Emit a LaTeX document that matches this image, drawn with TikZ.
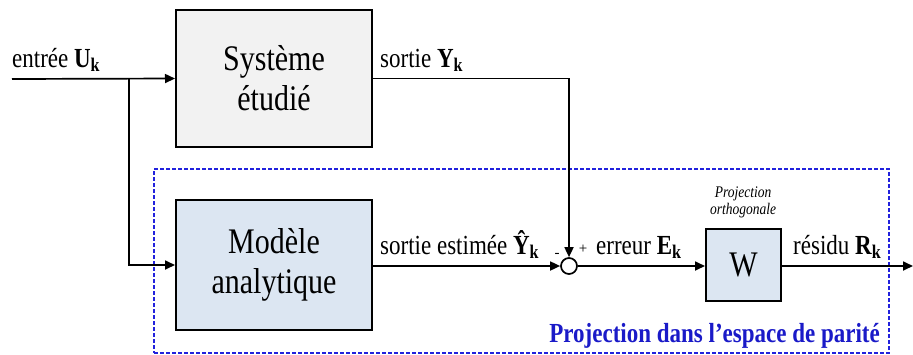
\documentclass[tikz,border=0pt]{standalone}
\usepackage{fontspec}
\setmainfont{Liberation Serif}
\usepackage{graphicx}
\usetikzlibrary{arrows.meta}
\definecolor{sysgray}{HTML}{F2F2F2}
\definecolor{modblue}{HTML}{DCE6F2}
\definecolor{frameblue}{HTML}{2222DD}
\definecolor{titleblue}{HTML}{1A1AC8}
\newcommand{\vs}[1]{\scalebox{1}[1.2]{#1}}
\newcommand{\sig}[2]{\vs{#1 \textbf{#2}\textsubscript{\textbf{k}}}}
\begin{document}
\begin{tikzpicture}[x=1pt,y=-1pt,
  blk/.style={draw, line width=2pt, minimum width=196pt, inner sep=0pt, align=center, font=\fontsize{30}{40}\selectfont},
  conn/.style={line width=1.7pt},
  arr/.style={conn, -{Triangle[length=10pt,width=9pt]}},
  lbl/.style={anchor=base west, inner sep=0pt, font=\fontsize{23}{26}\selectfont},
  sgn/.style={inner sep=0pt, font=\fontsize{15}{15}\selectfont},
]
\useasboundingbox (0,0) rectangle (913,354);
\node[draw=frameblue, dash pattern=on 4pt off 2pt, line width=1.5pt, minimum width=735pt, minimum height=184pt, inner sep=0pt] (frame) at (521.5,261) {};
\node[blk, fill=sysgray, minimum height=137pt] (sys) at (274,78.5) {\vs{Système}\\\vs{étudié}};
\node[blk, fill=modblue, minimum height=130pt] (mod) at (274,265) {\vs{Modèle}\\\vs{analytique}};
\node[circle, draw, line width=1.7pt, minimum size=16pt, inner sep=0pt] (sum) at (569,266) {};
\node[blk, fill=modblue, minimum width=75pt, minimum height=72pt] (W) at (743.5,265) {\vs{W}};
\coordinate (in) at (12,79);
\coordinate (br) at (129,79);
\coordinate (out) at (913,266);
\draw[arr] (in) -- (sys.west);
\draw[arr] (br) |- (mod.west);
\draw[arr] (sys.east) -| (sum.north);
\draw[arr] (mod.east |- sum.west) -- (sum.west);
\draw[arr] (sum.east) -- (W.west |- sum.east);
\draw[arr] (W.east |- sum.east) -- (out);
\node[lbl] (lin) at (12,67) {\sig{entrée}{U}};
\node[lbl] (lys) at (380,67) {\sig{sortie}{Y}};
\node[lbl] (lyh) at (380,254) {\sig{sortie estimée}{Ŷ}};
\node[lbl] (le) at (596,254) {\sig{erreur}{E}};
\node[lbl] (lr) at (793,254) {\sig{résidu}{R}};
\node[sgn] (plus) at (583,249) {+};
\node[sgn] (minus) at (557,255) {-};
\node[inner sep=0pt, align=center, font=\fontsize{13.5}{17}\itshape] (proj) at (743,202) {\vs{Projection}\\\vs{orthogonale}};
\node[anchor=base east, inner sep=0pt, text=titleblue, font=\fontsize{23}{26}\bfseries\selectfont] (title) at (880,342) {\vs{Projection dans l’espace de parité}};
\end{tikzpicture}
\end{document}
